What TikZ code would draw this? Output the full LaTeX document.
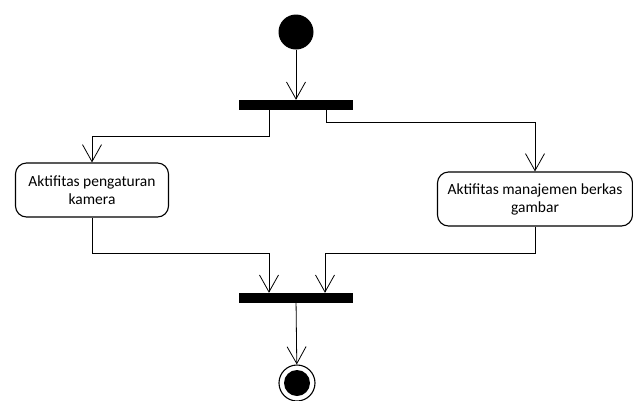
\documentclass[tikz,border=0pt]{standalone}
\usepackage{fontspec}
\setmainfont{Carlito}
\usetikzlibrary{arrows.meta}

\begin{document}
\begin{tikzpicture}[x=1pt, y=-1pt,
    flow/.style={line width=0.8pt, -{Straight Barb[length=17pt, width=19pt, line width=0.8pt]}},
    activity/.style={draw, line width=1.1pt, rounded corners=11pt, align=center,
        minimum height=54pt, inner sep=2pt, font=\fontsize{15.5}{18}\selectfont},
    bar/.style={fill=black, inner sep=0pt, minimum width=114pt, minimum height=10pt},
    initial/.style={circle, fill=black, inner sep=0pt, minimum size=35pt}]
    \useasboundingbox (0,0) rectangle (633,400);
    \node[initial] (start) at (296,32) {};
    \node[bar] (fork) at (296,105) {};
    \node[activity, minimum width=153pt] (pengaturan) at (92,190)
        {Aktifitas pengaturan\\kamera};
    \node[activity, minimum width=195pt] (berkas) at (535,199)
        {Aktifitas manajemen berkas\\gambar};
    \node[bar] (join) at (296,298) {};
    \node[circle, draw, line width=1.1pt, inner sep=0pt, minimum size=36pt] (end) at (297,383) {};
    \fill (end.center) circle (13pt);
    \draw[flow] (start) -- (fork);
    \draw[flow] ([xshift=-27pt]fork.south) -- ++(0,26) -| (pengaturan.north);
    \draw[flow] ([xshift=30pt]fork.south) -- ++(0,12) -| (berkas.north);
    \draw[flow] (pengaturan.south) -- ++(0,36) -| ([xshift=-27pt]join.north);
    \draw[flow] (berkas.south) -- ++(0,27) -| ([xshift=29pt]join.north);
    \draw[flow] (join) -- (end);
\end{tikzpicture}
\end{document}
